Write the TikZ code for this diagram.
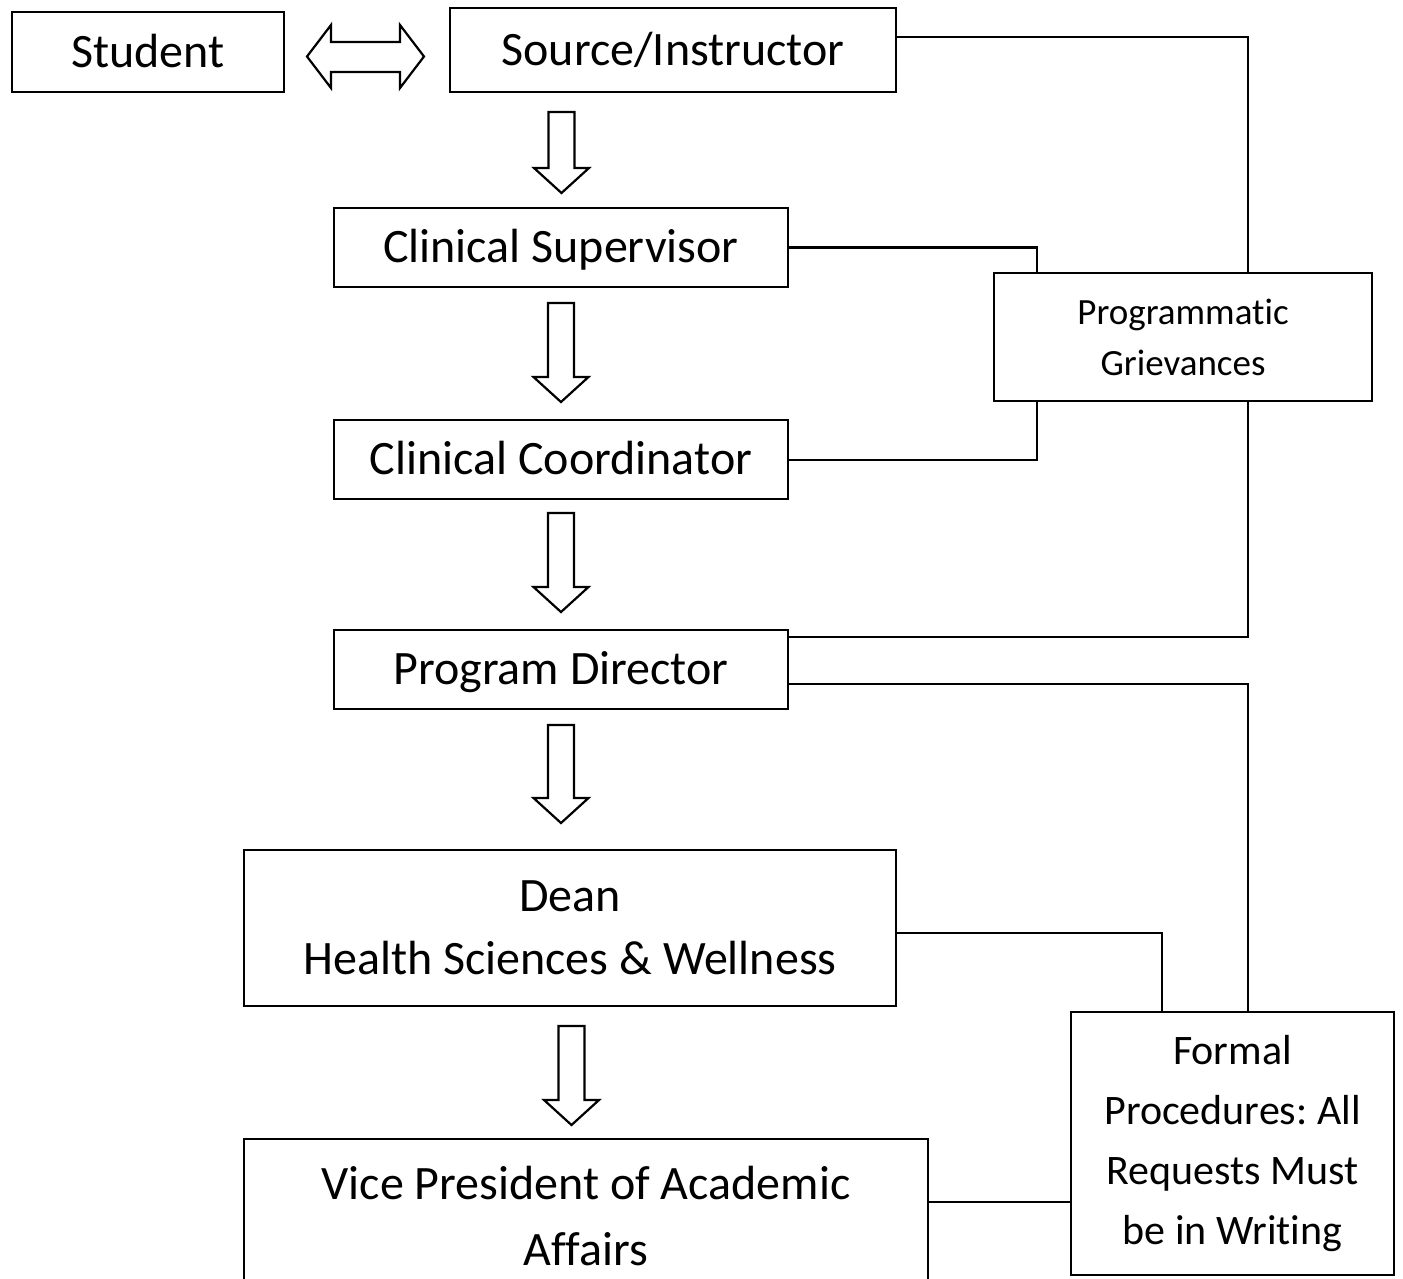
\documentclass[tikz,border=0pt]{standalone}
\usepackage{fontspec}
\setmainfont{Carlito}[Ligatures={NoCommon}]
\usetikzlibrary{calc}
\tikzset{
  box/.style={draw, line width=1.1pt, inner sep=0pt, font=\fontsize{24}{33}\selectfont\frenchspacing},
  multi/.style={box, align=center},
  oneline/.style={box, text height=20.4pt, text depth=4.94pt},
  conn/.style={draw, line width=1.1pt},
  blk/.style={draw, line width=1.1pt, fill=white, line join=miter},
}
\newcommand\blockdown[3]{%
  \draw[blk] ({#1-13},{#2}) -- ({#1+13},{#2}) -- ({#1+13},{#3-25}) -- ({#1+27.5},{#3-25})
    -- ({#1},{#3}) -- ({#1-27.5},{#3-25}) -- ({#1-13},{#3-25}) -- cycle;}
\begin{document}
\begin{tikzpicture}[x=0.5pt, y=-0.5pt]
\clip (0,0) rectangle (1403,1279);
\fill[white] (0,0) rectangle (1403,1279);

\node[oneline, minimum width=136pt, minimum height=40pt] (stu) at (148,52) {Student};
\node[oneline, minimum width=223pt, minimum height=42pt] (src) at (673,50) {Source/Instructor};
\node[oneline, minimum width=227pt, minimum height=39.5pt] (cs) at (561,247.5) {Clinical Supervisor};
\node[oneline, minimum width=227pt, minimum height=39.5pt] (cc) at (561,459.5) {Clinical Coordinator};
\node[oneline, minimum width=227pt, minimum height=39.5pt] (pd) at (561,669.5) {Program Director};
\node[multi, minimum width=326pt, minimum height=78pt] (dean) at (570,928) {Dean\\[-1.5pt]Health Sciences \& Wellness};
\node[multi, minimum width=342pt, minimum height=77pt] (vp) at (586,1216) {Vice President of Academic\\Affairs};
\node[multi, minimum width=189pt, minimum height=64pt, font=\fontsize{18.5}{25.5}\selectfont] (pg) at (1183,337) {Programmatic\\Grievances};
\node[multi, minimum width=161.5pt, minimum height=131.5pt, font=\fontsize{21}{30}\selectfont\frenchspacing] (fp) at (1232.5,1143.5) {Formal\\Procedures: All\\Requests Must\\be in Writing};

% double arrow
\draw[blk] (307,56.5) -- (331,25) -- (331,42) -- (400,42) -- (400,25) -- (424,56.5)
  -- (400,88) -- (400,72) -- (331,72) -- (331,88) -- cycle;

% block arrows
\blockdown{561.5}{112}{193}
\blockdown{561}{303}{402}
\blockdown{561}{513}{612}
\blockdown{561}{725}{823}
\blockdown{571.5}{1026}{1125}

% connectors
\draw[conn] ($(src.north east)+(0,30)$) -| ($(pg.north west)+(255,0)$);
\draw[conn] (cs.east) -| ($(pg.north west)+(44,0)$);
\draw[conn] ($(cc.north east)+(0,41)$) -| ($(pg.south west)+(44,0)$);
\draw[conn] ($(pg.south west)+(255,0)$) |- ($(pd.north east)+(0,8)$);
\draw[conn] ($(pd.north east)+(0,55)$) -| ($(fp.north west)+(178,0)$);
\draw[conn] ($(dean.north east)+(0,84)$) -| ($(fp.north west)+(92,0)$);
\coordinate (vpc) at ($(vp.north east)+(0,64)$);
\draw[conn] (vpc) -- (fp.west |- vpc);
\end{tikzpicture}
\end{document}
